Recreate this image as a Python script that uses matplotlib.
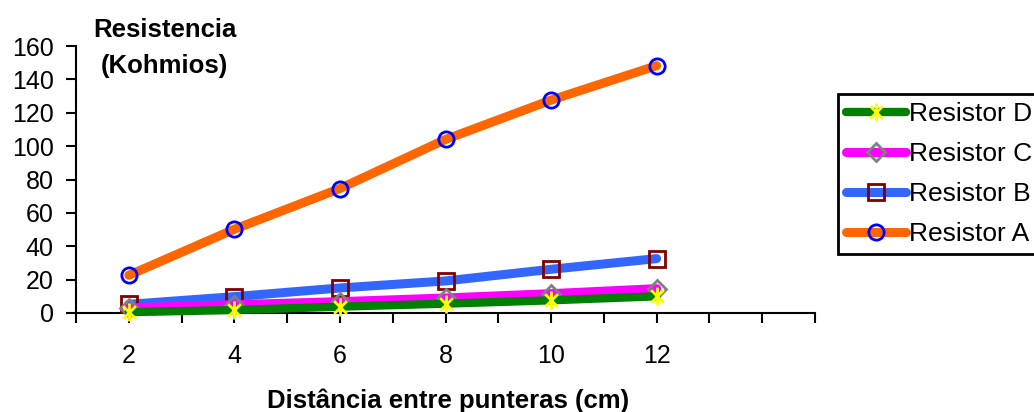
import numpy as np
import matplotlib
matplotlib.use("Agg")
import matplotlib.pyplot as plt
from matplotlib.path import Path

plt.rcParams['font.family'] = ['Liberation Sans', 'DejaVu Sans']

# distancia entre punteras (cm)
distancia = [2, 4, 6, 8, 10, 12]
# resistencia (Kohmios)
resistor_a = [22.6, 50.2, 74.6, 104.0, 127.6, 148.2]
resistor_b = [5.2, 9.8, 15.0, 19.2, 26.2, 32.6]
resistor_c = [3.0, 5.0, 6.8, 9.0, 11.6, 14.6]
resistor_d = [0.5, 1.8, 3.8, 5.6, 7.6, 10.0]

# marcador tipo excel: X con linea vertical
star = Path([(-0.7, -0.7), (0.7, 0.7), (-0.7, 0.7), (0.7, -0.7), (0, -1), (0, 1)],
            [Path.MOVETO, Path.LINETO, Path.MOVETO, Path.LINETO, Path.MOVETO, Path.LINETO])

fig = plt.figure(figsize=(10.34, 4.12), dpi=100)
ax = fig.add_axes([76/1034, 1-313/412, (815-76)/1034, (313-46)/412])

lw = 6.5
la, = ax.plot(distancia, resistor_a, color='#FF6600', lw=lw, marker='o', ms=11,
              mfc='none', mec='#0000FF', mew=2, solid_capstyle='round', clip_on=False, zorder=3)
lb, = ax.plot(distancia, resistor_b, color='#3366FF', lw=lw, marker='s', ms=11,
              mfc='none', mec='#800000', mew=2, solid_capstyle='round', clip_on=False, zorder=3)
lc, = ax.plot(distancia, resistor_c, color='#FF00FF', lw=lw, marker='D', ms=9,
              mfc='none', mec='#808080', mew=2, solid_capstyle='round', clip_on=False, zorder=3)
ld, = ax.plot(distancia, resistor_d, color='#008000', lw=6, marker=star, ms=13,
              mec='#FFFF00', mew=2, solid_capstyle='round', clip_on=False, zorder=3)

ax.set_xlim(1, 15)
ax.set_ylim(0, 160)
ax.set_yticks(np.arange(0, 161, 20))
ax.set_xticks(np.arange(1, 16, 1))
ax.set_xticklabels([str(v) if v in distancia else '' for v in range(1, 16)])

for s in ['top', 'right']:
    ax.spines[s].set_visible(False)
for s in ['left', 'bottom']:
    ax.spines[s].set_linewidth(1.5)
ax.tick_params(axis='both', direction='out', length=7, width=1.5, labelsize=18)
ax.tick_params(axis='x', pad=15)
ax.tick_params(axis='y', pad=9)

fig.text(165/1034, 1-37/412, 'Resistencia', ha='center', va='baseline',
         fontsize=18.5, fontweight='bold')
fig.text(164/1034, 1-73/412, '(Kohmios)', ha='center', va='baseline',
         fontsize=18.5, fontweight='bold')
fig.text(448/1034, 1-408/412, 'Distância entre punteras (cm)', ha='center', va='baseline',
         fontsize=18.5, fontweight='bold')

leg = fig.legend([ld, lc, lb, la], ['Resistor D', 'Resistor C', 'Resistor B', 'Resistor A'],
                 loc='upper left', bbox_to_anchor=(838/1034, 1-94/412),
                 bbox_transform=fig.transFigure, fontsize=19, fancybox=False,
                 edgecolor='black', framealpha=1, borderpad=0.32, labelspacing=0.6,
                 handlelength=2.25, handletextpad=0.12, borderaxespad=0)
leg.get_frame().set_linewidth(2)

fig.savefig('out.png', dpi=100)
